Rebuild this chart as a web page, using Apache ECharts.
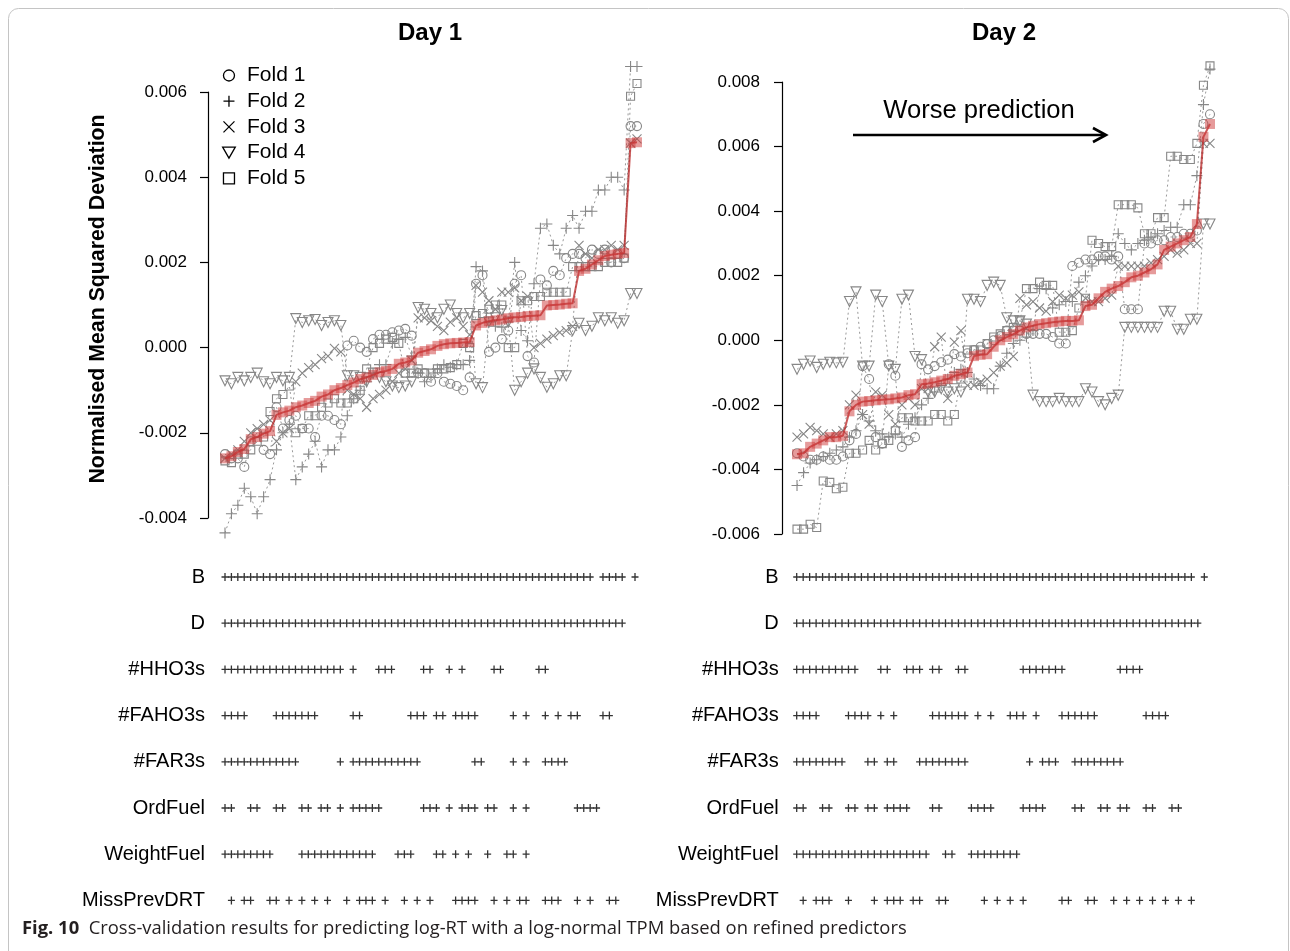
<!DOCTYPE html>
<html>
<head>
<meta charset="utf-8">
<script src="https://cdn.jsdelivr.net/npm/echarts@6/dist/echarts.min.js"></script>
<style>
  html, body { margin: 0; padding: 0; background: #fff; }
  #main { width: 1290px; height: 951px; }
</style>
</head>
<body>
<div id="main"></div>
<script>
// ---- Day 1: normalised MSD per model (sorted by mean) ----
const d1Mean = [-0.00260,-0.00255,-0.00245,-0.00238,-0.00215,-0.00210,-0.00202,-0.00196,-0.00158,-0.00152,
  -0.00148,-0.00140,-0.00136,-0.00130,-0.00125,-0.00115,-0.00110,-0.00100,-0.00095,-0.00088,
  -0.00082,-0.00074,-0.00070,-0.00064,-0.00058,-0.00055,-0.00050,-0.00038,-0.00035,-0.00030,
  -0.00012,-0.00008,-0.00004,0.00004,0.00008,0.00010,0.00011,0.00012,0.00013,0.00052,
  0.00058,0.00062,0.00064,0.00066,0.00069,0.00071,0.00072,0.00074,0.00075,0.00076,
  0.00099,0.00100,0.00101,0.00103,0.00104,0.00180,0.00185,0.00195,0.00205,0.00215,
  0.00218,0.00220,0.00222,0.00480,0.00482];
const d1Fold1 = [-0.0025,-0.0026,-0.0026,-0.0028,-0.0022,-0.0020,-0.0024,-0.0025,-0.0014,-0.0019,
  -0.0017,-0.0016,-0.0019,-0.0019,-0.0021,-0.0016,-0.0016,-0.0017,-0.0018,0.00005,
  0.00016,0.0000,-0.0001,0.0002,0.0003,0.0003,0.00036,0.0004,0.00044,0.00028,
  -0.0006,-0.0006,-0.0008,-0.0006,-0.0008,-0.00085,-0.0009,-0.0010,-0.0007,0.0015,
  0.0017,-0.0001,0.0000,0.0002,0.0004,0.0015,0.0017,-0.0002,-0.00035,0.0016,
  0.00146,0.0018,0.0017,0.0021,0.0022,0.0022,0.0021,0.0023,0.0022,0.0023,
  0.0020,0.0022,0.0021,0.0052,0.0052];
const d1Fold2 = [-0.00435,-0.0039,-0.0037,-0.0033,-0.0035,-0.0039,-0.0035,-0.0031,-0.0024,-0.0020,
  -0.0018,-0.0031,-0.0028,-0.0025,-0.0022,-0.0028,-0.0024,-0.0024,-0.0021,-0.0016,
  -0.0012,-0.0010,-0.0008,-0.0006,-0.0004,-0.0004,0.0001,0.0002,0.00024,-0.0002,
  -0.0006,-0.0008,-0.0007,-0.0005,-0.0004,-0.00046,-0.0004,-0.0004,-0.0003,0.0019,
  0.0018,0.0006,0.0005,0.00048,0.0006,0.0020,0.0004,0.00016,0.0015,0.0028,
  0.0029,0.0024,0.0022,0.0028,0.0031,0.0028,0.0032,0.0032,0.0037,0.0037,
  0.0040,0.0040,0.0037,0.0066,0.0066];
const d1Fold3 = [-0.0026,-0.0025,-0.0024,-0.0022,-0.0020,-0.0019,-0.0018,-0.0017,-0.0022,-0.0020,
  -0.0019,-0.0008,-0.0006,-0.00047,-0.0004,-0.00026,-0.0002,-0.00002,-0.0001,-0.0010,
  -0.0011,-0.0012,-0.0014,-0.0012,-0.0011,-0.0010,-0.0008,-0.0006,-0.0005,-0.0003,
  0.0007,0.0007,0.00063,0.0005,0.0004,0.0006,0.0007,0.0005,0.0003,0.00146,
  0.0013,0.0011,0.0009,0.0013,0.0013,0.0014,0.0011,0.0012,0.0000,0.0001,
  0.0002,0.00028,0.00036,0.0004,0.0005,0.0024,0.0022,0.0021,0.0023,0.0023,
  0.0024,0.0023,0.0024,0.0048,0.0049];
const d1Fold4 = [-0.00078,-0.00085,-0.0007,-0.00078,-0.0007,-0.0006,-0.0008,-0.00085,-0.0007,-0.00078,
  -0.0007,0.00068,0.00059,0.00063,0.00066,0.00052,0.00059,0.00063,0.00052,-0.00066,
  -0.00066,-0.0007,-0.0008,-0.0006,-0.0007,-0.0008,-0.0009,-0.00094,-0.0009,-0.0008,
  0.00094,0.0009,0.0008,0.0007,0.0009,0.0010,0.0008,0.0007,0.0008,-0.00085,
  -0.00094,0.0006,0.0007,0.00087,0.0006,-0.0010,-0.0008,-0.0006,-0.0005,-0.0007,
  -0.00093,-0.00085,-0.00066,-0.00066,0.0004,0.00057,0.0004,0.0005,0.0007,0.00063,
  0.0007,0.00057,0.00063,0.00127,0.00127];
const d1Fold5 = [-0.00266,-0.0027,-0.0025,-0.0025,-0.0024,-0.0022,-0.0021,-0.0015,-0.0012,-0.0011,
  -0.0009,-0.0020,-0.0019,-0.0016,-0.0016,-0.0014,-0.0013,-0.0012,-0.0013,-0.0013,
  -0.0012,-0.0010,-0.0005,0.0000,0.0001,0.0002,0.00024,0.0001,-0.0006,-0.0006,
  -0.0005,-0.0006,-0.0006,-0.0005,-0.0005,-0.00047,-0.0004,0.0001,0.0000,0.00075,
  0.0008,0.0009,0.0010,0.0010,0.0000,0.0000,0.0011,0.0011,0.0012,0.0012,
  0.0013,0.0013,0.0013,0.0013,0.0019,0.0019,0.0019,0.0019,0.0019,0.0020,
  0.0020,0.0020,0.0021,0.0059,0.0062];

// ---- Day 2 ----
const d2Mean = [-0.00353,-0.00350,-0.00330,-0.00320,-0.00310,-0.00300,-0.00300,-0.00296,-0.00220,-0.00200,
  -0.00190,-0.00188,-0.00186,-0.00184,-0.00183,-0.00180,-0.00177,-0.00170,-0.00167,-0.00136,
  -0.00134,-0.00130,-0.00125,-0.00120,-0.00110,-0.00105,-0.00100,-0.00049,-0.00045,-0.00043,
  -0.00020,0.00000,0.00010,0.00019,0.00030,0.00040,0.00045,0.00050,0.00053,0.00056,
  0.00058,0.00060,0.00060,0.00062,0.00106,0.00110,0.00130,0.00150,0.00160,0.00168,
  0.00180,0.00195,0.00200,0.00210,0.00220,0.00235,0.00280,0.00290,0.00300,0.00310,
  0.00320,0.00360,0.00630,0.00670];
const d2Fold1 = [-0.0035,-0.0036,-0.0037,-0.0037,-0.0036,-0.0037,-0.0037,-0.0036,-0.0031,-0.0029,
  -0.0008,-0.0012,-0.0030,-0.0032,-0.00074,-0.0011,-0.0033,-0.0031,-0.0030,-0.00074,
  -0.0009,-0.0008,-0.00068,-0.0006,-0.00043,-0.0005,-0.0004,-0.0003,-0.0002,-0.00012,
  0.0000,0.00013,0.0003,0.0003,0.0003,0.0002,0.0002,0.0002,0.0002,0.0001,
  -0.0001,-0.0001,0.0023,0.0024,0.0025,0.0025,0.0026,0.0026,0.0025,0.0026,
  0.00096,0.00096,0.00096,0.0030,0.0030,0.0031,0.0031,0.0032,0.0032,0.0033,
  0.0033,0.0034,0.0067,0.0070];
const d2Fold2 = [-0.0045,-0.0041,-0.0038,-0.0037,-0.0036,-0.0035,-0.0034,-0.0033,-0.0030,-0.0028,
  -0.0023,-0.0025,-0.0028,-0.0029,-0.0030,-0.0029,-0.0030,-0.0026,-0.0024,-0.0020,
  -0.0018,-0.0016,-0.0014,-0.0012,-0.0010,-0.0009,-0.0010,-0.0012,-0.0014,-0.0015,
  -0.0015,-0.0008,-0.0004,-0.0001,0.0000,0.0001,0.0003,0.0016,0.0016,0.0010,
  0.0011,0.0012,0.0012,0.0018,0.0020,0.0023,0.0025,0.0025,0.0026,0.0033,
  0.0030,0.0028,0.0030,0.0031,0.0032,0.0033,0.0034,0.0035,0.0035,0.0042,
  0.0042,0.0051,0.0073,0.0084];
const d2Fold3 = [-0.0030,-0.0029,-0.0027,-0.0028,-0.0029,-0.0030,-0.0029,-0.0028,-0.0020,-0.0017,
  -0.0023,-0.0026,-0.0016,-0.0017,-0.0023,-0.0026,-0.0020,-0.0018,-0.0020,-0.0015,
  -0.0015,-0.0002,0.0001,-0.0018,-0.00006,0.0003,-0.0014,-0.0014,-0.0013,-0.0012,
  -0.0010,-0.0008,-0.0007,-0.0005,0.0013,0.0011,0.0012,0.0010,0.0009,0.0012,
  0.0014,0.0013,0.0014,0.0015,0.0013,0.0012,0.0012,0.0013,0.0014,0.0023,
  0.0023,0.0023,0.0023,0.0023,0.0024,0.0025,0.0026,0.0028,0.0027,0.0028,
  0.0030,0.0030,0.0061,0.0061];
const d2Fold4 = [-0.0009,-0.00074,-0.00064,-0.00084,-0.00074,-0.00068,-0.0007,-0.00068,0.0012,0.0015,
  -0.0008,-0.0008,0.0014,0.0012,-0.0008,-0.0009,0.00127,0.0014,-0.0005,-0.0006,
  -0.0016,-0.0016,-0.0015,-0.0016,-0.0015,-0.0016,0.00127,0.00127,0.0012,0.0017,
  0.0018,0.0017,0.0007,0.0006,0.0006,0.0005,-0.0017,-0.0019,-0.0019,-0.0019,
  -0.0018,-0.0019,-0.0019,-0.0019,-0.0015,-0.0016,-0.0019,-0.0020,-0.0018,-0.0017,
  0.0004,0.0004,0.0004,0.0004,0.0004,0.0004,0.0009,0.0009,0.00034,0.00034,
  0.00065,0.00065,0.0036,0.0036];
const d2Fold5 = [-0.00585,-0.00585,-0.0057,-0.0058,-0.00436,-0.0044,-0.0046,-0.00455,-0.0035,-0.0035,
  -0.0034,-0.0031,-0.0034,-0.0032,-0.0031,-0.0028,-0.0024,-0.0024,-0.0025,-0.0025,
  -0.0025,-0.0023,-0.0023,-0.0025,-0.0023,-0.0012,-0.0003,-0.0003,-0.0003,-0.0001,
  0.0001,0.0002,0.0003,0.0004,0.0006,0.0016,0.0016,0.0018,0.0017,0.0017,
  0.00025,0.00025,0.0003,0.0010,0.0013,0.0031,0.0030,0.0029,0.0029,0.0042,
  0.0042,0.0042,0.0041,0.0033,0.0033,0.0038,0.0038,0.0057,0.0057,0.0056,
  0.0056,0.0061,0.0079,0.0085];

// ---- predictors in each model ('+' = included), one char per model ----
const predictorNames = ['B', 'D', '#HHO3s', '#FAHO3s', '#FAR3s', 'OrdFuel', 'WeightFuel', 'MissPrevDRT'];
const d1Included = [
  '++++++++++ ++++++++++ ++++++++++ ++++++++++ ++++++++++ ++++++++.+ +++.+',
  '++++++++++ ++++++++++ ++++++++++ ++++++++++ ++++++++++ ++++++++++ +++..',
  '++++++++++ +++++++++. +...+++... .++..+.+.. ..++.....+ +......... .....',
  '++++....++ +++++..... ++.......+ ++.++.++++ .....+.+.. +.+.++...+ +....',
  '++++++++++ ++......+. ++++++++++ +........+ +....+.+.. ++++...... .....',
  '++..++..++ ..++.++.+. +++++..... .+++.+.+++ .++..+.+.. .....++++. .....',
  '++++++++.. ..++++++++ ++++...+++ ...++.+.+. .+..++.+.. .......... .....',
  '.+.++..++. +.+.+.+..+ .+++.+..+. +.+...++++ ..+.+.++.. +++..+.+.. ++...'
];
const d2Included = [
  '++++++++++ ++++++++++ ++++++++++ ++++++++++ ++++++++++ ++++++++++ ++.+',
  '++++++++++ ++++++++++ ++++++++++ ++++++++++ ++++++++++ ++++++++++ +++.',
  '++++++++++ ...++..+++ .++..++... .....+++++ ++........ ++++...... ....',
  '++++....++ ++.+.+.... .++++++.+. +..+++.+.. .++++++... ....++++.. ....',
  '++++++++.. .++.++...+ +++++++... ......+.++ +..+++++++ +......... ....',
  '++..++..++ .++.++++.. .++....+++ +....++++. ...++..++. ++..++..++ ....',
  '++++++++++ ++++++++++ +..++..+++ +++++..... .......... .......... ....',
  '.+.+++..+. ..+.+++.++ ..++.....+ .+.+.+.... .++..++..+ .+.+.+.+.+ .+..'
];

const foldNames = ['Fold 1', 'Fold 2', 'Fold 3', 'Fold 4', 'Fold 5'];
const foldSymbols = ['circle', 'path://M0,5L10,5M5,0L5,10', 'path://M0,0L10,10M10,0L0,10',
  'path://M0,0L10,0L5,8.7Z', 'path://M0,0H10V10H0Z'];
const foldSizes = [9, 11, 9, 10, 8];

const GREY = '#878787';
const FONT = 'Liberation Sans';

var chart = echarts.init(document.getElementById('main'));

function foldSeries(values, k, axis) {
  return {
    name: foldNames[k], type: 'line', xAxisIndex: axis, yAxisIndex: axis,
    data: values.map((v, i) => [i, v]),
    symbol: foldSymbols[k], symbolSize: foldSizes[k], clip: false, z: 2,
    itemStyle: { color: 'rgba(0,0,0,0)', borderColor: GREY, borderWidth: 1.1 },
    lineStyle: { color: '#999', width: 1, type: [2, 3] },
    emphasis: { disabled: true }, silent: true
  };
}
function meanSeries(values, axis) {
  return {
    name: 'Mean', type: 'line', xAxisIndex: axis, yAxisIndex: axis,
    data: values.map((v, i) => [i, v]),
    symbol: 'rect', symbolSize: 10, clip: false, z: 3,
    itemStyle: { color: 'rgba(205,55,55,0.5)' },
    lineStyle: { color: 'rgba(185,35,35,0.75)', width: 2 },
    emphasis: { disabled: true }, silent: true
  };
}
function plusSeries(masks, axis) {
  const pts = [];
  masks.forEach((m, r) => {
    m.replace(/ /g, '').split('').forEach((c, i) => {
      if (c === '+') pts.push([i, predictorNames[r]]);
    });
  });
  return {
    type: 'scatter', xAxisIndex: axis, yAxisIndex: axis, data: pts,
    symbol: 'path://M0,3.35H7V4.65H0Z M2.85,0H4.15V8H2.85Z', symbolSize: [7, 8],
    itemStyle: { color: '#000' }, silent: true, z: 2
  };
}
function fmt(v) {
  return Math.abs(v) < 1e-9 ? '0.000' : v.toFixed(3);
}
const yAxisBase = {
  type: 'value', interval: 0.002, splitLine: { show: false },
  axisLine: { show: true, onZero: false, lineStyle: { color: '#000', width: 1.2 } },
  axisTick: { show: true, length: 8, lineStyle: { color: '#000', width: 1.2 } },
  axisLabel: { formatter: fmt, fontSize: 17, color: '#000', fontFamily: FONT, margin: 21 }
};
const catAxisBase = {
  type: 'category', data: predictorNames, inverse: true,
  axisLine: { show: false, onZero: false }, axisTick: { show: false }, splitLine: { show: false },
  axisLabel: { fontSize: 20, color: '#000', fontFamily: FONT, margin: 20 }
};

const n1 = d1Mean.length, n2 = d2Mean.length;

var option = {
  animation: false,
  backgroundColor: '#fff',
  textStyle: { fontFamily: FONT },
  grid: [
    { left: 208, top: 92, width: 429, height: 426 },
    { left: 782, top: 82, width: 428, height: 452 },
    { left: 225, top: 553.9, width: 410, height: 369.6 },
    { left: 796.7, top: 553.9, width: 407.6, height: 369.6 }
  ],
  xAxis: [
    // x starts a little left of the first model so the y axis sits apart from the points
    { gridIndex: 0, type: 'value', min: -2.64, max: n1 - 1, show: false },
    { gridIndex: 1, type: 'value', min: -2.29, max: n2 - 1, show: false },
    { gridIndex: 2, type: 'value', min: 0, max: n1 - 1, show: false },
    { gridIndex: 3, type: 'value', min: 0, max: n2 - 1, show: false }
  ],
  yAxis: [
    Object.assign({}, yAxisBase, { gridIndex: 0, min: -0.004, max: 0.006 }),
    Object.assign({}, yAxisBase, { gridIndex: 1, min: -0.006, max: 0.008,
      axisLabel: Object.assign({}, yAxisBase.axisLabel, { margin: 22 }) }),
    Object.assign({}, catAxisBase, { gridIndex: 2 }),
    Object.assign({}, catAxisBase, { gridIndex: 3, axisLabel: Object.assign({}, catAxisBase.axisLabel, { margin: 18 }) })
  ],
  legend: {
    orient: 'vertical', left: 217, top: 60, itemWidth: 26, itemHeight: 11, itemGap: 4.7,
    selectedMode: false,
    textStyle: { fontSize: 21, color: '#000', fontFamily: FONT },
    data: foldNames.map((n, k) => ({
      name: n, icon: foldSymbols[k],
      itemStyle: { color: 'rgba(0,0,0,0)', borderColor: '#000', borderWidth: 1.3 }
    }))
  },
  graphic: [
    { type: 'rect', shape: { x: 8.5, y: 8.5, width: 1280, height: 960, r: 10 },
      style: { fill: 'none', stroke: '#c4c4c4', lineWidth: 1 }, silent: true },
    { type: 'text', x: 430, y: 33,
      style: { text: 'Day 1', fontSize: 24, fontWeight: 'bold', fontFamily: FONT, fill: '#000',
        align: 'center', verticalAlign: 'middle' } },
    { type: 'text', x: 1004, y: 33,
      style: { text: 'Day 2', fontSize: 24, fontWeight: 'bold', fontFamily: FONT, fill: '#000',
        align: 'center', verticalAlign: 'middle' } },
    { type: 'text', x: 98, y: 299, rotation: Math.PI / 2,
      style: { text: 'Normalised Mean Squared Deviation', fontSize: 21.3, fontWeight: 'bold',
        fontFamily: FONT, fill: '#000', align: 'center', verticalAlign: 'middle' } },
    { type: 'text', x: 979, y: 111,
      style: { text: 'Worse prediction', fontSize: 25.6, fontFamily: FONT, fill: '#000',
        align: 'center', verticalAlign: 'middle' } },
    { type: 'line', shape: { x1: 853, y1: 135, x2: 1105, y2: 135 },
      style: { stroke: '#000', lineWidth: 2.6 } },
    { type: 'polyline', shape: { points: [[1093, 128], [1106, 135], [1093, 142]] },
      style: { stroke: '#000', lineWidth: 2.6, fill: 'none' } },
    { type: 'text', x: 22, y: 929,
      style: {
        text: '{b|Fig. 10}{n|  Cross-validation results for predicting log-RT with a log-normal TPM based on refined predictors}',
        verticalAlign: 'middle',
        rich: {
          b: { fontSize: 18.4, fontWeight: 'bold', fontFamily: 'Open Sans', fill: '#231f20' },
          n: { fontSize: 18.4, fontFamily: 'Open Sans', fill: '#231f20' }
        }
      } }
  ],
  series: [
    foldSeries(d1Fold1, 0, 0), foldSeries(d1Fold2, 1, 0), foldSeries(d1Fold3, 2, 0),
    foldSeries(d1Fold4, 3, 0), foldSeries(d1Fold5, 4, 0), meanSeries(d1Mean, 0),
    foldSeries(d2Fold1, 0, 1), foldSeries(d2Fold2, 1, 1), foldSeries(d2Fold3, 2, 1),
    foldSeries(d2Fold4, 3, 1), foldSeries(d2Fold5, 4, 1), meanSeries(d2Mean, 1),
    plusSeries(d1Included, 2), plusSeries(d2Included, 3)
  ]
};
chart.setOption(option);
</script>
</body>
</html>
